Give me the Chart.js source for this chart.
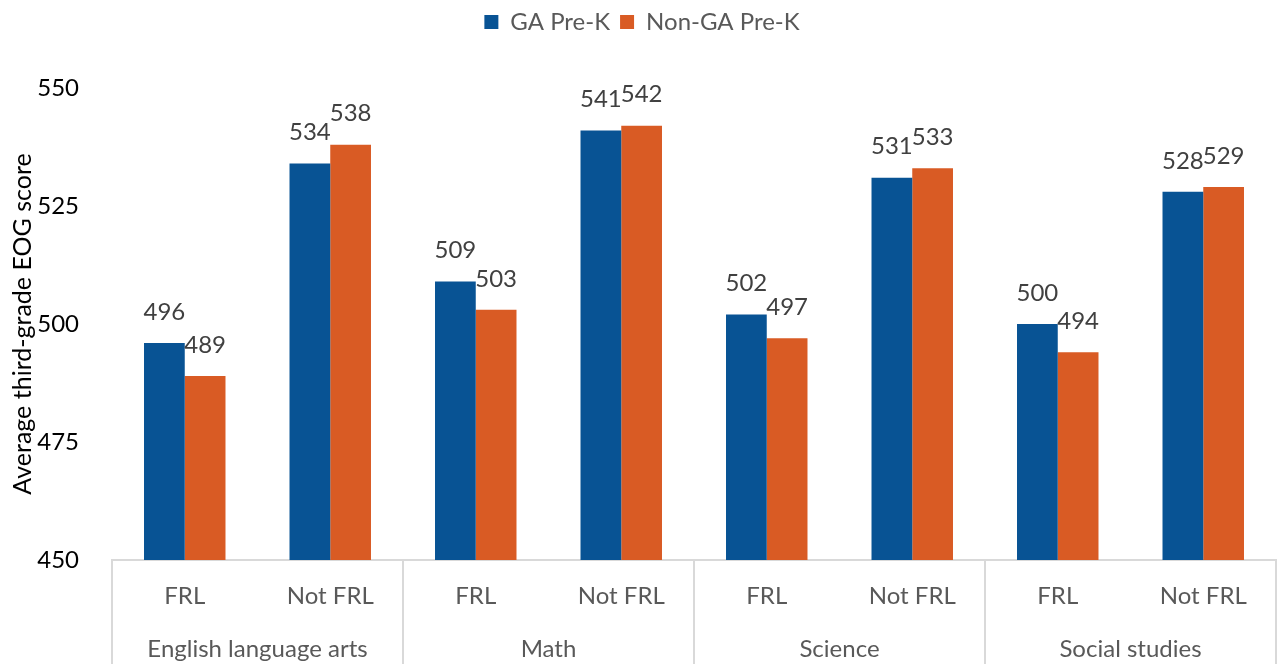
<!DOCTYPE html>
<html>
<head>
<meta charset="utf-8">
<script src="https://cdn.jsdelivr.net/npm/chart.js@4/dist/chart.umd.min.js"></script>
<style>
  body { margin: 0; background: #fff; }
  canvas { display: block; }
</style>
</head>
<body>
<canvas id="chart" width="1278" height="664"></canvas>
<script>
// data
const subLabels = ['FRL', 'Not FRL', 'FRL', 'Not FRL', 'FRL', 'Not FRL', 'FRL', 'Not FRL'];
const groupLabels = ['English language arts', 'Math', 'Science', 'Social studies'];
const gaPreK = [496, 534, 509, 541, 502, 531, 500, 528];
const nonGaPreK = [489, 538, 503, 542, 497, 533, 494, 529];
const yTicks = [450, 475, 500, 525, 550];

const blue = '#085394';
const orange = '#d95b24';
const gray = '#595959';
const lineColor = '#d9d9d9';

Chart.defaults.font.family = 'Lato';
Chart.defaults.font.size = 24;

// numbers above the bars
const valueLabels = {
  id: 'valueLabels',
  afterDatasetsDraw(chart) {
    const ctx = chart.ctx;
    ctx.save();
    ctx.font = '24px Lato';
    ctx.fillStyle = '#404040';
    ctx.textAlign = 'center';
    ctx.textBaseline = 'middle';
    chart.data.datasets.forEach((ds, i) => {
      chart.getDatasetMeta(i).data.forEach((bar, j) => {
        ctx.fillText(ds.data[j], bar.x, bar.y - 31);
      });
    });
    ctx.restore();
  }
};

// leave room under the legend
const legendGap = {
  id: 'legendGap',
  beforeInit(chart) {
    const origFit = chart.legend.fit;
    chart.legend.fit = function () {
      origFit.bind(chart.legend)();
      this.height += 44;
    };
  }
};

new Chart(document.querySelector('#chart'), {
  type: 'bar',
  data: {
    labels: subLabels,
    datasets: [
      { label: 'GA Pre-K', data: gaPreK, backgroundColor: blue },
      { label: 'Non-GA Pre-K', data: nonGaPreK, backgroundColor: orange }
    ]
  },
  options: {
    responsive: false,
    animation: false,
    categoryPercentage: 0.56,
    barPercentage: 1.0,
    layout: { padding: { left: 8, right: 2, top: 0, bottom: 0 } },
    plugins: {
      tooltip: { enabled: false },
      legend: {
        position: 'top',
        labels: {
          color: gray,
          boxWidth: 14,
          boxHeight: 14,
          padding: 10,
          font: { size: 24 }
        }
      }
    },
    scales: {
      x: {
        offset: true,
        afterFit: (scale) => { scale.height = 52; },
        border: { display: true, color: lineColor, width: 2 },
        grid: {
          display: true,
          drawOnChartArea: false,
          offset: true,
          tickLength: 52,
          lineWidth: 2,
          color: (c) => (c.type !== 'tick' || c.index % 2 === 0) ? lineColor : 'rgba(0,0,0,0)'
        },
        ticks: { color: gray, padding: -30, font: { size: 24 }, maxRotation: 0, autoSkip: false }
      },
      x2: {
        type: 'category',
        labels: groupLabels,
        position: 'bottom',
        offset: true,
        afterFit: (scale) => { scale.height = 52; },
        border: { display: false },
        grid: {
          display: true,
          drawOnChartArea: false,
          offset: true,
          tickLength: 52,
          lineWidth: 2,
          color: lineColor
        },
        ticks: { color: gray, padding: -29, font: { size: 24 }, maxRotation: 0, autoSkip: false }
      },
      y: {
        min: 450,
        max: 550,
        afterBuildTicks: (scale) => { scale.ticks = yTicks.map(v => ({ value: v })); },
        afterFit: (scale) => { scale.width = 104; },
        border: { display: false },
        grid: { display: false },
        ticks: { color: '#000', padding: 25, font: { size: 24 } },
        title: {
          display: true,
          text: 'Average third-grade EOG score',
          color: '#000',
          font: { size: 25 },
          padding: { top: 0, bottom: 4 }
        }
      }
    }
  },
  plugins: [valueLabels, legendGap]
});
</script>
</body>
</html>
